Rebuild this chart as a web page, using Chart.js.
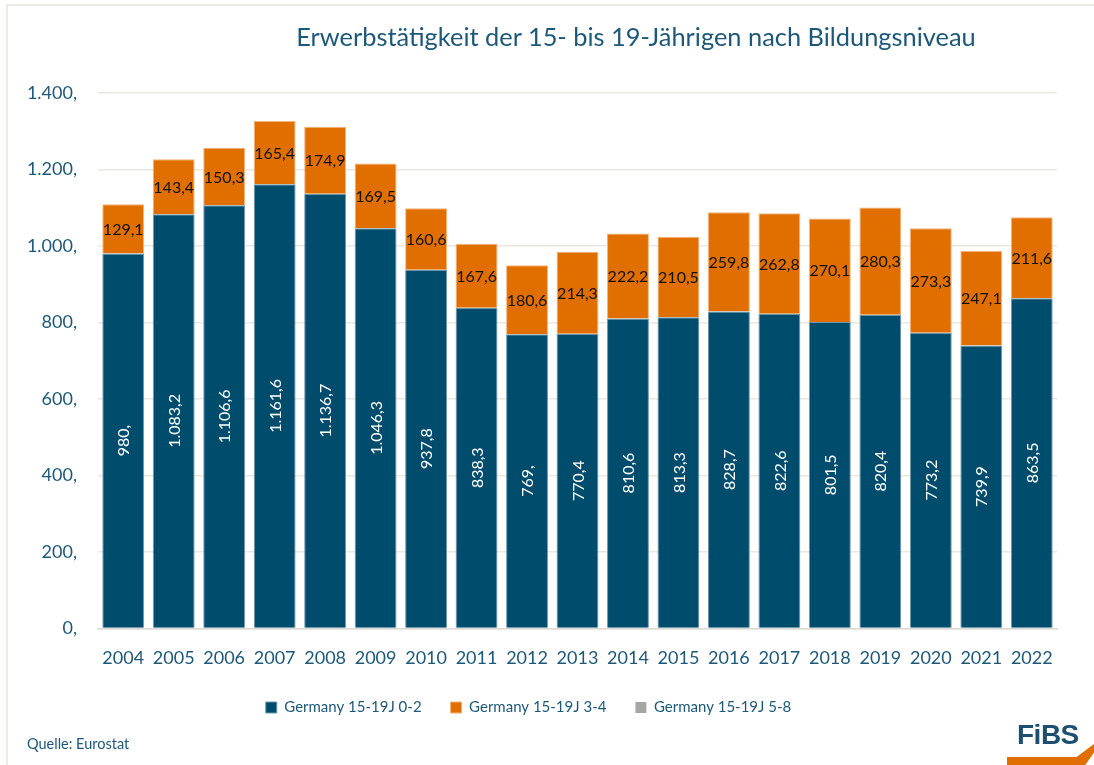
<!DOCTYPE html>
<html lang="de">
<head>
<meta charset="utf-8">
<title>Erwerbstätigkeit der 15- bis 19-Jährigen nach Bildungsniveau</title>
<script src="https://cdn.jsdelivr.net/npm/chart.js@4.4.0/dist/chart.umd.min.js"></script>
<style>
    html, body { margin: 0; padding: 0; background: #fff; }
    body { width: 1094px; height: 765px; position: relative; overflow: hidden; font-family: Lato, "Noto Sans", sans-serif; }
    #frame { position: absolute; left: 6px; top: 4px; right: -10px; bottom: -10px; border: 2px solid #eeebe2; }
    #title { position: absolute; top: 21px; left: 236px; width: 800px; text-align: center; font-size: 25.4px; color: #1d5878; }
    #source { position: absolute; left: 27px; top: 735px; font-size: 14.5px; color: #1d5878; }
    #logo { position: absolute; left: 1017px; top: 719px; font: bold 28px "Liberation Sans", Arial, sans-serif; color: #1c4f70; letter-spacing: -0.5px; }
    #swoosh { position: absolute; left: 1007px; top: 744px; width: 87px; height: 21px; background: #e06f00;
              clip-path: polygon(0 62%, 80% 62%, 100% 0, 100% 40%, 90% 100%, 0 100%); }
    canvas { position: absolute; left: 0; top: 0; }
</style>
</head>
<body>
<div id="frame"></div>
<canvas id="barChart" width="1094" height="765"></canvas>
<div id="title">Erwerbstätigkeit der 15- bis 19-Jährigen nach Bildungsniveau</div>
<div id="source">Quelle: Eurostat</div>
<div id="swoosh"></div>
<div id="logo">FiBS</div>
<script>
// Data (in thousands)
const years = ['2004', '2005', '2006', '2007', '2008', '2009', '2010', '2011', '2012', '2013',
               '2014', '2015', '2016', '2017', '2018', '2019', '2020', '2021', '2022'];
const level02 = [980, 1083.2, 1106.6, 1161.6, 1136.7, 1046.3, 937.8, 838.3, 769, 770.4,
                 810.6, 813.3, 828.7, 822.6, 801.5, 820.4, 773.2, 739.9, 863.5];
const level34 = [129.1, 143.4, 150.3, 165.4, 174.9, 169.5, 160.6, 167.6, 180.6, 214.3,
                 222.2, 210.5, 259.8, 262.8, 270.1, 280.3, 273.3, 247.1, 211.6];
const level58 = [0, 0, 0, 0, 0, 0, 0, 0, 0, 0, 0, 0, 0, 0, 0, 0, 0, 0, 0];
const seriesNames = ['Germany 15-19J 0-2', 'Germany 15-19J 3-4', 'Germany 15-19J 5-8'];
const yMax = 1400;
const yStep = 200;

const textColor = '#1d5878';
const fontFamily = 'Lato, "Noto Sans", sans-serif';

// German Excel-style number format: "1.083,2" / "980,"
function fmt(v) {
    const tenths = Math.round(v * 10);
    const intPart = Math.floor(tenths / 10);
    const dec = tenths % 10;
    const s = intPart.toString().replace(/\B(?=(\d{3})+(?!\d))/g, '.');
    return s + ',' + (dec ? dec : '');
}

// Simple inline value labels (no datalabels plugin available)
const valueLabels = {
    id: 'valueLabels',
    afterDatasetsDraw(chart) {
        const ctx = chart.ctx;
        ctx.save();
        ctx.font = '16px ' + fontFamily;
        ctx.textAlign = 'center';
        ctx.textBaseline = 'middle';
        chart.data.datasets.forEach((ds, di) => {
            if (di > 1) return;
            const meta = chart.getDatasetMeta(di);
            meta.data.forEach((bar, i) => {
                const p = bar.getProps(['x', 'y', 'base'], true);
                const cy = (p.y + p.base) / 2;
                const txt = fmt(ds.data[i]);
                if (di === 0) {
                    ctx.save();
                    ctx.translate(p.x, cy);
                    ctx.rotate(-Math.PI / 2);
                    ctx.fillStyle = '#ffffff';
                    ctx.fillText(txt, 0, 1);
                    ctx.restore();
                } else {
                    ctx.fillStyle = '#111111';
                    ctx.fillText(txt, p.x, cy + 1);
                }
            });
        });
        ctx.restore();
    }
};

// nudge the legend row up a bit, closer to the axis labels
const legendShift = {
    id: 'legendShift',
    afterLayout(chart) {
        if (!chart.legend) return;
        chart.legend.top -= 17;
        chart.legend.bottom -= 17;
    }
};

function renderChart() {
    const ctx = document.getElementById('barChart');
    new Chart(ctx, {
        type: 'bar',
        data: {
            labels: years,
            datasets: [
                { label: seriesNames[0], data: level02, backgroundColor: '#004c6d', borderColor: '#6f97ad', borderWidth: 1 },
                { label: seriesNames[1], data: level34, backgroundColor: '#e06f00', borderColor: '#f2b27a', borderWidth: 1 },
                { label: seriesNames[2], data: level58, backgroundColor: '#a5a5a5', borderWidth: 0 }
            ]
        },
        options: {
            responsive: false,
            animation: false,
            layout: { padding: { top: 93, left: 0, right: 37, bottom: 23 } },
            datasets: { bar: { categoryPercentage: 1, barPercentage: 0.83 } },
            plugins: {
                title: { display: false },
                tooltip: { enabled: false },
                legend: {
                    position: 'bottom',
                    labels: {
                        boxWidth: 11,
                        boxHeight: 11,
                        padding: 29,
                        color: textColor,
                        font: { family: fontFamily, size: 15 }
                    }
                }
            },
            scales: {
                x: {
                    stacked: true,
                    grid: { display: false, drawTicks: false },
                    border: { display: true, color: '#d9d9d9', width: 1.5 },
                    ticks: { color: textColor, padding: 19, font: { family: fontFamily, size: 18 } }
                },
                y: {
                    stacked: true,
                    min: 0,
                    max: yMax,
                    afterFit: (scale) => { scale.width = 98; },
                    grid: { color: '#ece8dd', lineWidth: 1.5, drawTicks: false },
                    border: { display: false },
                    ticks: {
                        stepSize: yStep,
                        padding: 21,
                        color: textColor,
                        font: { family: fontFamily, size: 18 },
                        callback: (v) => fmt(v)
                    }
                }
            }
        },
        plugins: [valueLabels, legendShift]
    });
}

document.addEventListener('DOMContentLoaded', renderChart);
</script>
</body>
</html>
